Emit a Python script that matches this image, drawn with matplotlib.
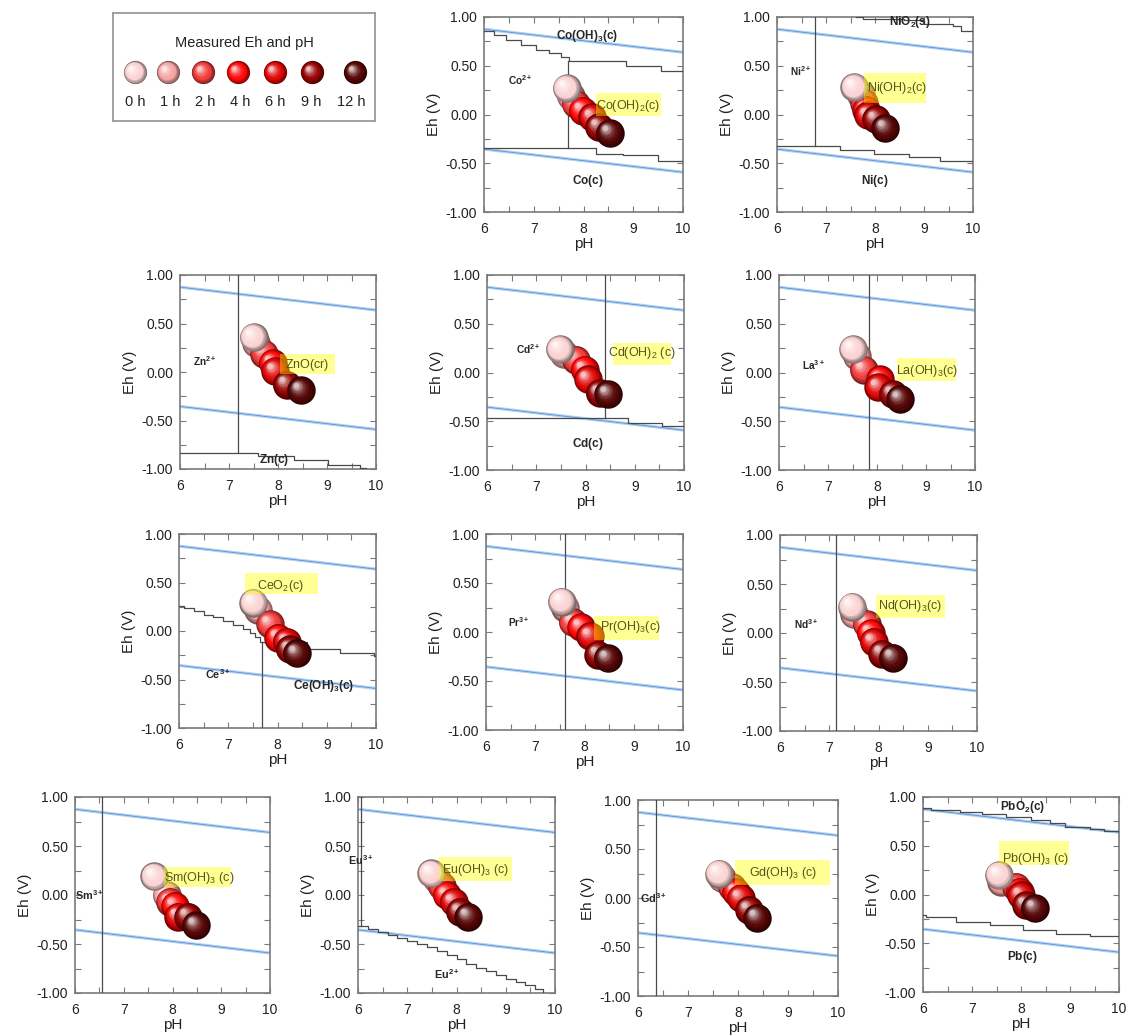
import numpy as np
import matplotlib
matplotlib.use("Agg")
import matplotlib.pyplot as plt
from matplotlib import transforms
from matplotlib.colors import to_rgb
from matplotlib.patches import Rectangle
from matplotlib.ticker import MultipleLocator, FormatStrFormatter

plt.rcParams['font.family'] = ['Liberation Sans', 'DejaVu Sans']
plt.rcParams['mathtext.fontset'] = 'custom'
plt.rcParams['mathtext.rm'] = 'Liberation Sans'
plt.rcParams['mathtext.bf'] = 'Liberation Sans:bold'
plt.rcParams['mathtext.it'] = 'Liberation Sans:italic'
plt.rcParams['axes.unicode_minus'] = False

# ---------------- data ----------------
hours = ['0 h', '1 h', '2 h', '4 h', '6 h', '9 h', '12 h']
hour_colors = ['#fbd3d3', '#f4a3a3', '#f03c3c', '#ff0808', '#e00606', '#960202', '#560606']

# water stability limits (O2/H2O and H2O/H2) at pH 6 and 10
water_ph = [6.0, 10.0]
water_upper = [0.875, 0.638]
water_lower = [-0.355, -0.592]

# measured Eh (V) / pH for each sampling time (0, 1, 2, 4, 6, 9, 12 h)
co_ph = [7.66, 7.74, 7.84, 7.98, 8.18, 8.31, 8.53]
co_eh = [0.27, 0.19, 0.11, 0.04, -0.03, -0.13, -0.19]
ni_ph = [7.58, 7.72, 7.78, 7.82, 7.86, 8.02, 8.21]
ni_eh = [0.28, 0.20, 0.12, 0.05, -0.01, -0.05, -0.14]
zn_ph = [7.50, 7.55, 7.72, 7.89, 7.94, 8.18, 8.47]
zn_eh = [0.36, 0.30, 0.19, 0.09, 0.01, -0.13, -0.19]
cd_ph = [7.48, 7.56, 7.81, 7.98, 8.05, 8.29, 8.46]
cd_eh = [0.24, 0.19, 0.13, 0.03, -0.07, -0.21, -0.22]
la_ph = [7.51, 7.59, 7.73, 8.06, 8.03, 8.32, 8.47]
la_eh = [0.24, 0.17, 0.03, -0.07, -0.15, -0.22, -0.27]
ce_ph = [7.51, 7.61, 7.85, 8.02, 8.19, 8.25, 8.39]
ce_eh = [0.29, 0.22, 0.07, -0.07, -0.11, -0.19, -0.23]
pr_ph = [7.54, 7.61, 7.76, 7.93, 8.12, 8.28, 8.47]
pr_eh = [0.31, 0.25, 0.10, 0.05, -0.04, -0.23, -0.27]
nd_ph = [7.46, 7.51, 7.76, 7.84, 7.90, 8.07, 8.29]
nd_eh = [0.27, 0.19, 0.09, 0.00, -0.09, -0.21, -0.25]
sm_ph = [7.63, 7.88, 7.95, 8.05, 8.12, 8.32, 8.48]
sm_eh = [0.19, 0.00, -0.07, -0.11, -0.22, -0.22, -0.31]
eu_ph = [7.49, 7.60, 7.70, 7.80, 7.94, 8.07, 8.24]
eu_eh = [0.22, 0.16, 0.09, 0.00, -0.07, -0.17, -0.22]
gd_ph = [7.62, 7.68, 7.88, 7.96, 8.05, 8.22, 8.38]
gd_eh = [0.25, 0.20, 0.11, 0.06, 0.00, -0.12, -0.20]
pb_ph = [7.55, 7.60, 7.90, 7.97, 8.00, 8.10, 8.28]
pb_eh = [0.20, 0.13, 0.08, 0.03, -0.01, -0.11, -0.14]

# predominance-field boundaries: (pH list, Eh list)
co_bounds = [
    ([6.0, 6.2, 6.45, 6.75, 7.05, 7.3, 7.55, 7.7, 8.85, 9.55, 10.0],
     [0.86, 0.82, 0.76, 0.71, 0.66, 0.63, 0.59, 0.55, 0.50, 0.45, 0.45]),
    ([7.69, 7.69], [0.55, -0.345]),
    ([6.0, 8.25, 8.8, 9.5, 10.0], [-0.345, -0.40, -0.42, -0.48, -0.48]),
]
ni_bounds = [
    ([6.78, 6.78], [1.0, -0.32]),
    ([6.0, 7.29, 7.97, 8.69, 9.33, 10.0], [-0.32, -0.36, -0.41, -0.44, -0.48, -0.48]),
    ([7.62, 7.75, 8.6, 9.0, 9.6, 9.75, 10.0], [1.0, 0.98, 0.97, 0.93, 0.91, 0.86, 0.86]),
]
zn_bounds = [
    ([7.19, 7.19], [1.0, -0.83]),
    ([6.0, 7.6, 8.32, 9.03, 9.68, 9.8], [-0.83, -0.87, -0.91, -0.96, -0.99, -1.0]),
]
cd_bounds = [
    ([8.39, 8.39], [1.0, -0.47]),
    ([6.0, 8.86, 9.55, 10.0], [-0.47, -0.52, -0.55, -0.55]),
]
la_bounds = [([7.83, 7.83], [1.0, -1.0])]
ce_bounds = [
    ([6.0, 6.1, 6.3, 6.5, 6.7, 6.9, 7.1, 7.3, 7.45, 7.55, 7.65, 8.59, 9.27, 9.95, 10.0],
     [0.26, 0.24, 0.21, 0.17, 0.14, 0.10, 0.06, 0.02, -0.02, -0.06, -0.115, -0.19, -0.23, -0.26, -0.26]),
    ([7.68, 7.68], [-0.115, -1.0]),
]
pr_bounds = [([7.61, 7.61], [1.0, -1.0])]
nd_bounds = [([7.13, 7.13], [1.0, -1.0])]
sm_bounds = [([6.56, 6.56], [1.0, -1.0])]
eu_bounds = [
    ([6.07, 6.07], [1.0, -0.32]),
    ([6.0, 6.2, 6.4, 6.6, 6.8, 7.0, 7.2, 7.4, 7.6, 7.8, 8.0, 8.2, 8.4, 8.6, 8.8, 9.0, 9.2, 9.4, 9.6, 9.75],
     [-0.32, -0.35, -0.38, -0.41, -0.44, -0.47, -0.50, -0.53, -0.57, -0.61, -0.65, -0.70, -0.74,
      -0.78, -0.82, -0.86, -0.89, -0.92, -0.96, -1.0]),
]
gd_bounds = [([6.36, 6.36], [1.0, -1.0])]
pb_bounds = [
    ([6.0, 6.17, 6.75, 7.2, 7.7, 8.2, 8.6, 8.9, 9.4, 9.7, 10.0],
     [0.89, 0.87, 0.85, 0.83, 0.79, 0.76, 0.73, 0.69, 0.67, 0.65, 0.64]),
    ([6.0, 6.07, 6.68, 7.36, 8.04, 8.72, 9.40, 10.0],
     [-0.21, -0.235, -0.28, -0.31, -0.365, -0.40, -0.43, -0.43]),
]

# ---------------- layout ----------------
W, H = 1127, 1036
fig = plt.figure(figsize=(W / 100, H / 100), dpi=100)


def px_axes(l, t, r, b):
    return fig.add_axes([l / W, 1 - b / H, (r - l) / W, (b - t) / H])


def sphere(ax, x, y, color, size, z):
    """Shaded ball: stacked discs shifted toward a top-left highlight."""
    base = np.array(to_rgb(color))
    R = np.sqrt(size) / 2.0
    n = 14
    for k in range(n):
        t = k / (n - 1)
        r = R * (1 - 0.82 * t)
        dx, dy = -0.36 * R * t, 0.36 * R * t
        if t < 0.3:
            c = base * (0.5 + 0.5 * t / 0.3)
        else:
            u = (t - 0.3) / 0.7
            c = base + (1 - base) * (0.75 * u ** 1.8)
        tr = transforms.offset_copy(ax.transData, fig=fig, x=dx, y=dy, units='points')
        ax.scatter([x], [y], s=(2 * r) ** 2, color=np.clip(c, 0, 1), transform=tr,
                   zorder=z + k * 0.01, linewidths=0, clip_on=False)


def bf(s):
    return r'$\mathbf{' + s + '}$'


def rm(s):
    return r'$\mathrm{' + s + '}$'


LBL, ION = 8.5, 7.3
panels = [
    dict(rect=(484, 17, 683, 212), ph=co_ph, eh=co_eh, bounds=co_bounds,
         labels=[(bf('Co(OH)_3(c)'), 8.08, 0.81, LBL), (bf('Co^{2+}'), 6.73, 0.35, ION),
                 (bf('Co(c)'), 8.08, -0.68, LBL)],
         box=(8.25, 9.55, -0.014, 0.216), boxtext=(rm('Co(OH)_2(c)'), 8.9, 0.085)),
    dict(rect=(777, 17, 973, 212), ph=ni_ph, eh=ni_eh, bounds=ni_bounds,
         labels=[(bf('NiO_2(s)'), 8.72, 0.95, LBL), (bf('Ni^{2+}'), 6.48, 0.45, ION),
                 (bf('Ni(c)'), 8.0, -0.68, LBL)],
         box=(7.77, 9.05, 0.12, 0.43), boxtext=(rm('Ni(OH)_2(c)'), 8.45, 0.27)),
    dict(rect=(180, 275, 376, 469), ph=zn_ph, eh=zn_eh, bounds=zn_bounds,
         labels=[(bf('Zn^{2+}'), 6.51, 0.11, ION), (bf('Zn(c)'), 7.91, -0.91, LBL)],
         box=(8.04, 9.17, -0.019, 0.187), boxtext=(rm('ZnO(cr)'), 8.59, 0.075)),
    dict(rect=(487, 275, 684, 470), ph=cd_ph, eh=cd_eh, bounds=cd_bounds,
         labels=[(bf('Cd^{2+}'), 6.83, 0.24, ION), (bf('Cd(c)'), 8.05, -0.73, LBL)],
         box=(8.56, 9.73, 0.072, 0.306), boxtext=(rm('Cd(OH)_2\\ (c)'), 9.15, 0.2)),
    dict(rect=(779, 275, 975, 470), ph=la_ph, eh=la_eh, bounds=la_bounds,
         labels=[(bf('La^{3+}'), 6.71, 0.075, ION)],
         box=(8.40, 9.61, -0.086, 0.144), boxtext=(rm('La(OH)_3(c)'), 9.02, 0.02)),
    dict(rect=(179, 534, 376, 728), ph=ce_ph, eh=ce_eh, bounds=ce_bounds,
         labels=[(bf('Ce^{3+}'), 6.79, -0.44, ION + 0.5), (bf('Ce(OH)_3(c)'), 8.93, -0.57, LBL)],
         box=(7.34, 8.83, 0.377, 0.602), boxtext=(rm('CeO_2(c)'), 8.05, 0.46)),
    dict(rect=(486, 534, 683, 730), ph=pr_ph, eh=pr_eh, bounds=pr_bounds,
         labels=[(bf('Pr^{3+}'), 6.66, 0.10, ION)],
         box=(8.20, 9.51, -0.079, 0.161), boxtext=(rm('Pr(OH)_3(c)'), 8.93, 0.05)),
    dict(rect=(780, 535, 977, 731), ph=nd_ph, eh=nd_eh, bounds=nd_bounds,
         labels=[(bf('Nd^{3+}'), 6.53, 0.09, ION)],
         box=(7.95, 9.36, 0.154, 0.384), boxtext=(rm('Nd(OH)_3(c)'), 8.64, 0.28)),
    dict(rect=(75, 797, 270, 993), ph=sm_ph, eh=sm_eh, bounds=sm_bounds,
         labels=[(bf('Sm^{3+}'), 6.3, 0.0, ION + 0.5)],
         box=(7.83, 9.2, 0.082, 0.286), boxtext=(rm('Sm(OH)_3\\ (c)'), 8.54, 0.175)),
    dict(rect=(358, 797, 555, 993), ph=eu_ph, eh=eu_eh, bounds=eu_bounds,
         labels=[(bf('Eu^{3+}'), 6.06, 0.36, ION + 0.5), (bf('Eu^{2+}'), 7.8, -0.81, ION + 0.5)],
         box=(7.64, 9.12, 0.139, 0.388), boxtext=(rm('Eu(OH)_3\\ (c)'), 8.38, 0.26)),
    dict(rect=(638, 800, 838, 996), ph=gd_ph, eh=gd_eh, bounds=gd_bounds,
         labels=[(bf('Gd^{3+}'), 6.3, 0.0, ION + 0.5)],
         box=(7.94, 9.84, 0.137, 0.39), boxtext=(rm('Gd(OH)_3\\ (c)'), 8.9, 0.26)),
    dict(rect=(923, 797, 1119, 992), ph=pb_ph, eh=pb_eh, bounds=pb_bounds,
         labels=[(bf('PbO_2(c)'), 8.04, 0.90, LBL), (bf('Pb(c)'), 8.02, -0.645, LBL)],
         box=(7.55, 8.98, 0.30, 0.546), boxtext=(rm('Pb(OH)_3\\ (c)'), 8.29, 0.36)),
]

SPHERE_S = 420
draw_order = [1, 2, 3, 4, 5, 6, 0]

for p in panels:
    ax = px_axes(*p['rect'])
    ax.set_xlim(6, 10)
    ax.set_ylim(-1, 1)
    for sp in ax.spines.values():
        sp.set_color('#7a7a7a')
        sp.set_linewidth(1.2)
    ax.xaxis.set_major_locator(MultipleLocator(1))
    ax.xaxis.set_minor_locator(MultipleLocator(0.5))
    ax.yaxis.set_major_locator(MultipleLocator(0.5))
    ax.yaxis.set_minor_locator(MultipleLocator(0.25))
    ax.yaxis.set_major_formatter(FormatStrFormatter('%.2f'))
    ax.tick_params(which='both', direction='in', top=True, right=True, length=4,
                   width=0.8, color='#7a7a7a', labelsize=10, labelcolor='#222222')
    ax.tick_params(axis='x', pad=7)
    ax.tick_params(axis='y', pad=5)
    ax.set_xlabel('pH', fontsize=11, color='#222222', labelpad=1)
    ax.set_ylabel('Eh (V)', fontsize=11, color='#222222', labelpad=3)

    # water stability lines
    for wl in (water_upper, water_lower):
        ax.plot(water_ph, wl, color='#afd0f5', lw=2.2, zorder=2, solid_capstyle='butt')
        ax.plot(water_ph, wl, color='#5588d0', lw=0.5, zorder=2.1)

    # field boundaries
    for bx, by in p['bounds']:
        ax.plot(bx, by, color='#4a4a4a', lw=0.9, drawstyle='steps-post', zorder=3)

    # measured points
    for i in draw_order:
        sphere(ax, p['ph'][i], p['eh'][i], hour_colors[i], SPHERE_S, 10 + i if i else 20)

    # highlighted predominant solid
    x0, x1, y0, y1 = p['box']
    ax.add_patch(Rectangle((x0, y0), x1 - x0, y1 - y0, facecolor='#ffff00', alpha=0.42,
                           edgecolor='none', zorder=30))
    t, tx, ty = p['boxtext']
    ax.text(tx, ty, t, fontsize=9, color='#55551a', ha='center', va='center', zorder=31)

    for t, tx, ty, fs in p['labels']:
        ax.text(tx, ty, t, fontsize=fs, color='#262626', ha='center', va='center', zorder=31)

# ---------------- legend ----------------
lax = px_axes(113, 13, 375, 121)
lax.set_xlim(0, 1)
lax.set_ylim(0, 1)
lax.set_xticks([])
lax.set_yticks([])
for sp in lax.spines.values():
    sp.set_color('#9a9a9a')
    sp.set_linewidth(1.3)
lax.text(0.5, 0.72, 'Measured Eh and pH', ha='center', va='center', fontsize=10.5, color='#222222')
sx = [0.084, 0.21, 0.344, 0.477, 0.618, 0.760, 0.925]
lx = [0.084, 0.218, 0.351, 0.485, 0.618, 0.756, 0.908]
for i in range(len(hours)):
    sphere(lax, sx[i], 0.45, hour_colors[i], 280, 10 + i)
    lax.text(lx[i], 0.18, hours[i], ha='center', va='center', fontsize=10.5, color='#222222')

fig.savefig('out.png', dpi=100)
